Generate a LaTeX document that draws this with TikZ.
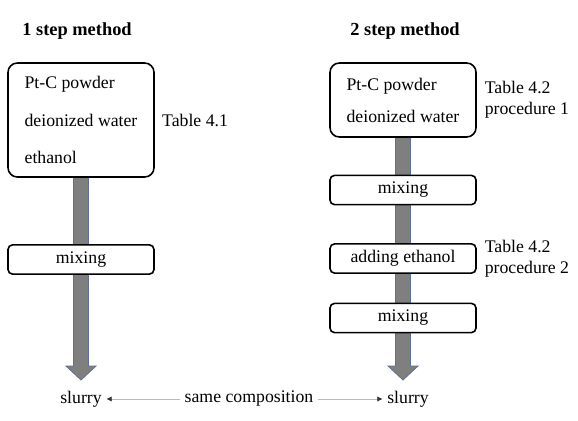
\documentclass[tikz,border=0pt]{standalone}
\usepackage{fontspec}
\setmainfont{Liberation Serif}
\usetikzlibrary{positioning,calc,backgrounds,arrows.meta}

\definecolor{shaftgray}{HTML}{7F7F7F}
\definecolor{shaftedge}{HTML}{5F6F94}

% fat grey flow arrow: from (#1) straight down to the tip (#2)
\newcommand{\fatarrow}[2]{%
  \filldraw[flowarrow] ($(#1)+(-7.5,0)$) -- ($(#2)+(-7.5,-14)$) -- ($(#2)+(-15,-14)$) -- (#2)
    -- ($(#2)+(15,-14)$) -- ($(#2)+(7.5,-14)$) -- ($(#1)+(7.5,0)$) -- cycle;}

\begin{document}
\begin{tikzpicture}[x=0.75pt,y=-0.75pt,
    font=\fontsize{13.3}{16}\selectfont,
    bigbox/.style={draw, line width=1.2pt, rounded corners=7pt, fill=white, minimum width=109.5pt, align=left},
    stepbox/.style={draw, line width=1.2pt, rounded corners=3.5pt, fill=white, minimum width=109.5pt, minimum height=22pt},
    flowarrow/.style={fill=shaftgray, draw=shaftedge, line width=0.6pt},
    sameline/.style={draw=gray!55, line width=0.5pt, -{Latex[length=4pt,width=4pt,color=black!80]}}]

	\useasboundingbox (0,0) rectangle (578,421);

	\begin{scope}
		\node[font=\fontsize{13.8}{16}\selectfont\bfseries] (title1) at (77,31) {1 step method};
		\node[bigbox, minimum height=85.5pt] (mat1) at (81,120) {Pt-C powder\\[12pt]deionized water\\[12pt]ethanol};
		\node[right=2pt of mat1, align=left] (tab1) {Table 4.1};
		\node[stepbox] (mix1) at (81,259.5) {mixing};
		\node (slurry1) at (81,399) {slurry};
		\coordinate (tip1) at (81,380);
	\end{scope}

	\begin{scope}
		\node[font=\fontsize{13.8}{16}\selectfont\bfseries] (title2) at (405,31) {2 step method};
		\node[bigbox, minimum height=55.5pt] (mat2) at (403,100) {Pt-C powder\\[8pt]deionized water};
		\node[right=2.5pt of mat2, align=left] (tab2) {Table 4.2\\procedure 1};
		\node[stepbox] (mix2) at (403,190) {mixing};
		\node[stepbox] (add2) at (403,258.5) {adding ethanol};
		\node[right=2.5pt of add2, align=left] (tab3) {Table 4.2\\procedure 2};
		\node[stepbox] (mix3) at (403,318) {mixing};
		\node (slurry2) at (408,399) {slurry};
		\coordinate (tip2) at (403,380);
	\end{scope}

	\node (same) at (249,399) {same composition};
	\draw[sameline] (same) -- (slurry1);
	\draw[sameline] (same) -- (slurry2);

	\begin{scope}[on background layer]
		\fatarrow{mat1.south}{tip1}
		\fatarrow{mat2.south}{tip2}
	\end{scope}

\end{tikzpicture}
\end{document}
